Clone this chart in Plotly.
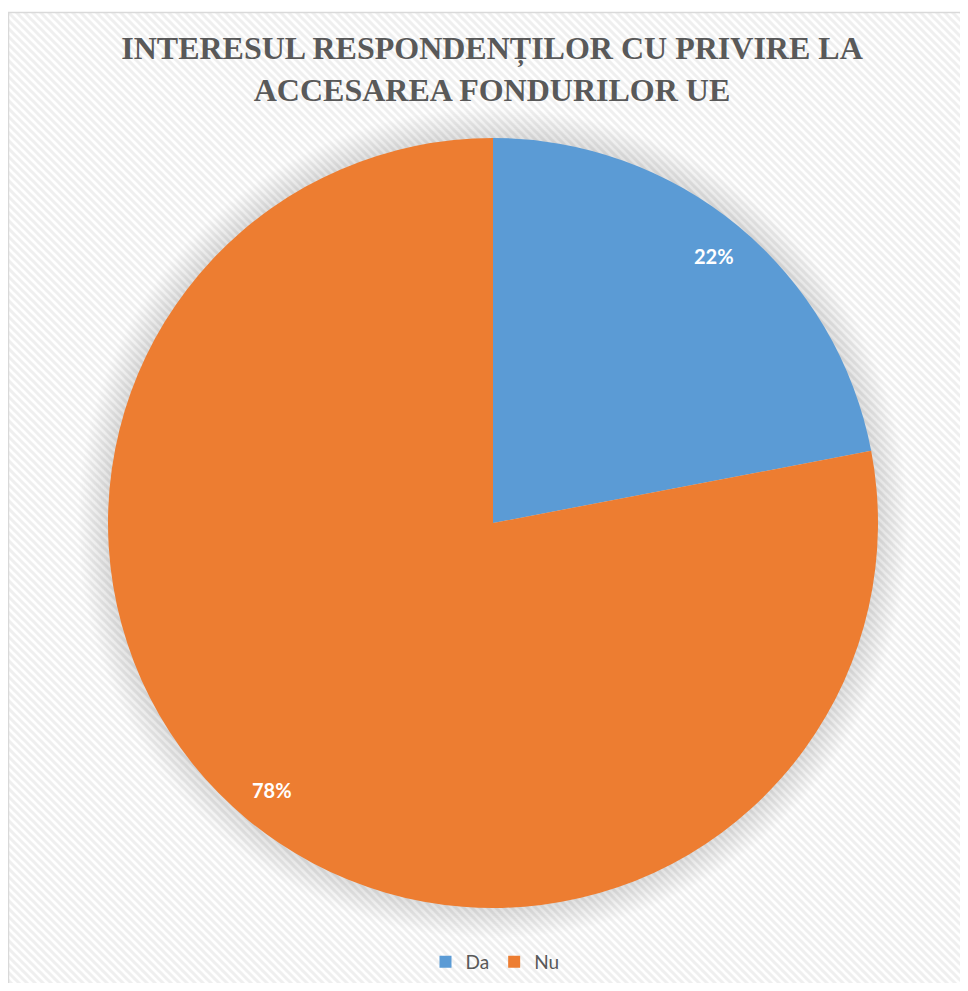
import base64
import math
import plotly.graph_objects as go

# data
labels = ["Da", "Nu"]
values = [22, 78]
colors = ["#5B9BD5", "#ED7D31"]
title_text = "INTERESUL RESPONDENȚILOR CU PRIVIRE LA<br>ACCESAREA FONDURILOR UE"

# page body has an 8px margin, so figure is drawn 8px in from the window edge
W, H = 960, 975
cx, cy, R = 485, 515, 385   # pie centre / radius in px (figure coords)

# diagonal hatch background (svg pattern as image)
svg = f'''<svg xmlns="http://www.w3.org/2000/svg" width="{W}" height="{H}">
<defs><pattern id="p" width="8" height="8" patternUnits="userSpaceOnUse">
<rect width="8" height="8" fill="#ffffff"/>
<path d="M-2,-2 L10,10 M-2,6 L2,10 M6,-2 L10,2" stroke="#efefef" stroke-width="3"/>
</pattern></defs>
<rect width="{W}" height="{H}" fill="url(#p)"/></svg>'''
bg_uri = "data:image/svg+xml;base64," + base64.b64encode(svg.encode()).decode()

fig = go.Figure()
fig.add_trace(go.Pie(
    labels=labels, values=values,
    marker=dict(colors=colors, line=dict(width=0)),
    sort=False, direction="clockwise", rotation=0,
    textinfo="none", hoverinfo="label+percent",
    domain=dict(x=[(cx - R) / W, (cx + R) / W], y=[1 - (cy + R) / H, 1 - (cy - R) / H]),
))

# percentage labels at 0.9 R on each slice mid-angle
total = sum(values)
annotations = []
acc = 0
for v in values:
    mid = (acc + v / 2) / total * 2 * math.pi
    acc += v
    px = cx + 0.9 * R * math.sin(mid)
    py = cy - 0.9 * R * math.cos(mid)
    annotations.append(dict(x=px / W, y=1 - py / H, xref="paper", yref="paper",
                            xanchor="center", yanchor="middle",
                            text=f"<b>{round(v / total * 100)}%</b>", showarrow=False,
                            font=dict(family="Lato, Open Sans, sans-serif", size=20, color="white")))

# soft shadow halo round the pie
shapes = []
for k in range(15):
    r = R + 30 - k * 2
    shapes.append(dict(type="circle", xref="paper", yref="paper", layer="below",
                       x0=(cx - r) / W, x1=(cx + r) / W, y0=1 - (cy + r) / H, y1=1 - (cy - r) / H,
                       fillcolor="rgba(0,0,0,0.009)", line=dict(width=0)))
# chart border
shapes.append(dict(type="rect", xref="paper", yref="paper", layer="above",
                   x0=0.5 / W, x1=1.05, y0=-0.05, y1=1 - 4.5 / H,
                   line=dict(color="#d9d9d9", width=1.5)))

fig.update_layout(
    width=W, height=H,
    margin=dict(l=0, r=0, t=0, b=0),
    paper_bgcolor="white",
    title=dict(text=f"<b>{title_text}</b>", x=(cx - 1) / W, xanchor="center",
               y=1 - 51 / H, yanchor="top",
               font=dict(family="Liberation Serif, Times New Roman, serif", size=32, color="#595959")),
    images=[dict(source=bg_uri, xref="paper", yref="paper", x=0, y=1 - 4 / H,
                 sizex=1, sizey=1, xanchor="left", yanchor="top", sizing="stretch", layer="below")],
    shapes=shapes,
    annotations=annotations,
    showlegend=True,
    legend=dict(orientation="h", x=(cx + 2) / W, xanchor="center", y=1 - 954 / H, yanchor="middle",
                font=dict(family="Lato, Open Sans, sans-serif", size=19, color="#595959"),
                bgcolor="rgba(0,0,0,0)", itemwidth=30),
)

fig.write_html("out.html")
